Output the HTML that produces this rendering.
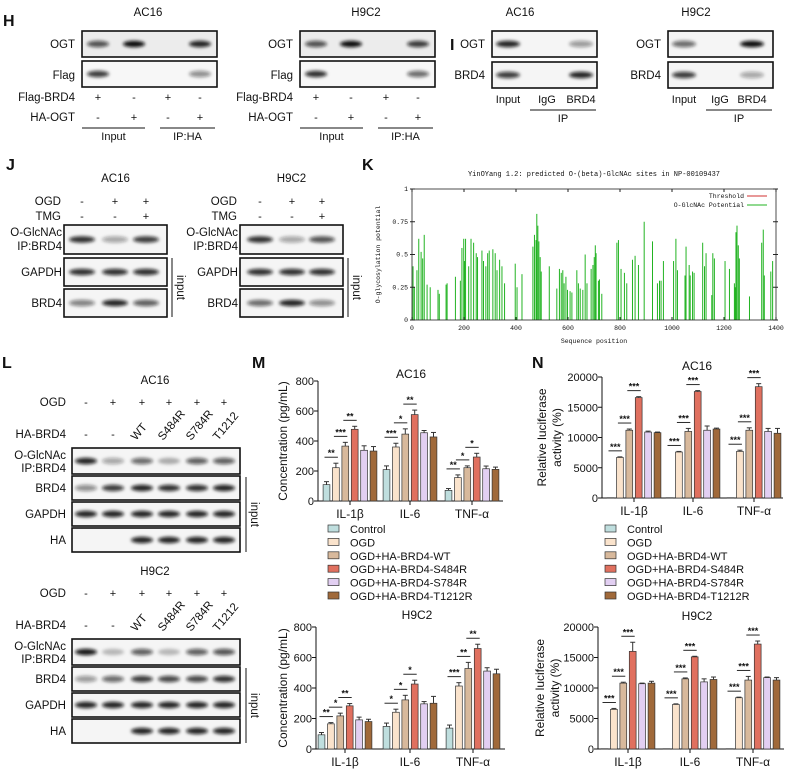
<!DOCTYPE html>
<html><head><meta charset="utf-8"><style>
html,body{margin:0;padding:0;background:#fff}
svg{display:block;font-family:"Liberation Sans",Arial,sans-serif}
</style></head><body>
<svg id="fig" width="799" height="778" viewBox="0 0 799 778" xmlns="http://www.w3.org/2000/svg">
<defs><filter id="blur" x="-50%" y="-100%" width="200%" height="300%"><feGaussianBlur stdDeviation="1.6"/></filter></defs>
<g id="root"></g>
</svg>
<script>
// ===== Chart data =====
const groups = ["IL-1β","IL-6","TNF-α"];
const seriesNames = ["Control","OGD","OGD+HA-BRD4-WT","OGD+HA-BRD4-S484R","OGD+HA-BRD4-S784R","OGD+HA-BRD4-T1212R"];
const mAC16 = [[109,222,366,478,338,333],[209,360,446,576,455,427],[71,156,222,293,215,211]];
const mAC16err = [[20,30,25,20,30,30],[25,25,35,30,15,30],[12,18,12,25,18,15]];
const mH9C2 = [[93,165,217,283,191,180],[148,241,322,426,296,300],[137,413,528,659,511,493]];
const mH9C2err = [[15,8,18,15,18,15],[22,20,30,25,15,45],[20,22,40,28,22,30]];
const mTicks = [0,200,400,600,800];
const nAC16 = [[50,6700,11200,16600,10900,10800],[50,7600,11000,17600,11200,11400],[50,7700,11200,18400,11000,10700]];
const nAC16err = [[0,100,200,150,150,100],[0,100,500,150,700,150],[0,200,400,500,500,800]];
const nH9C2 = [[50,6500,10800,16000,10700,10800],[50,7300,11500,15100,11000,11400],[50,8400,11300,17200,11700,11300]];
const nH9C2err = [[0,150,150,1500,100,300],[0,100,150,100,500,400],[0,100,600,500,100,400]];
const nTicks = [0,5000,10000,15000,20000];
const sigMAC16 = [["**","***","**"],["***","*","**"],["**","*","*"]];
const sigMH9C2 = [["**","*","**"],["*","*","*"],["***","**","**"]];
const sigN = [["***","***","***"],["***","***","***"],["***","***","***"]];
// K chart data
const kPos = [4,9,19,26,35,41,47,58,70,100,105,131,135,167,186,192,199,202,206,218,227,237,247,252,269,275,284,291,297,311,320,327,337,346,356,397,404,423,465,471,477,480,484,488,493,497,528,557,567,574,580,585,592,598,608,615,634,640,647,657,666,673,689,696,701,705,708,717,721,730,788,794,804,817,826,848,858,871,893,925,944,952,958,967,1006,1015,1021,1050,1054,1066,1070,1079,1085,1118,1125,1131,1153,1157,1163,1204,1221,1240,1243,1246,1250,1255,1259,1298,1345,1351,1355,1380,1387];
const kVal = [.41,.25,.38,.62,.52,.47,.65,.27,.25,.23,.2,.27,.28,.33,.3,.55,.62,.45,.62,.41,.62,.59,.51,.48,.53,.45,.41,.51,.53,.54,.51,.38,.46,.41,.28,.43,.25,.35,.56,.65,.61,.81,.72,.6,.48,.37,.41,.24,.39,.36,.38,.28,.33,.23,.22,.21,.38,.28,.24,.23,.5,.28,.39,.42,.48,.57,.51,.3,.31,.2,.59,.61,.39,.36,.28,.46,.49,.42,.75,.6,.28,.3,.3,.45,.45,.62,.38,.34,.56,.42,.34,.37,.36,.59,.41,.51,.19,.51,.47,.45,.39,.28,.25,.67,.72,.57,.47,.18,.59,.69,.34,.37,.45];
const kXTicks = [0,200,400,600,800,1000,1200,1400];
const kYTicks = [0,0.25,0.5,0.75,1];

const colors = ["#bfdede","#fae3cc","#d8b99c","#e0705f","#e2cff2","#a0693a"];
const NS="http://www.w3.org/2000/svg";
const root=document.getElementById('root');
function el(tag,attrs,parent,text){const e=document.createElementNS(NS,tag);for(const k in attrs)e.setAttribute(k,attrs[k]);if(text!==undefined)e.textContent=text;(parent||root).appendChild(e);return e;}
function txt(x,y,s,size,anchor,parent,extra){return el('text',Object.assign({x:x,y:y,'font-size':size||11,'text-anchor':anchor||'middle',fill:'#111'},extra||{}),parent,s);}

// Panel letters
[["H",3,26],["I",450,50],["J",6,170],["K",362,170],["L",2,368],["M",252,368],["N",532,368]].forEach(p=>{
  const t=txt(p[1],p[2],p[0],16,'start',root,{'font-weight':'bold'});
  
  
});

function blot(name,x,y,w,h,lanes,ints,bw,bg){
  const g=el('g',{});
  
  
  el('rect',{x:x,y:y,width:w,height:h,fill:bg||'#f3f3f3',stroke:'#111','stroke-width':1.6},g);
  lanes.forEach((lx,i)=>{ if(ints[i]>0){
    const b=el('ellipse',{cx:lx,cy:y+h/2,rx:bw/2,ry:3.2,fill:'#111','fill-opacity':ints[i],filter:'url(#blur)'},g);
    
    
  }});
  return g;
}
function rowSigns(label,lx,y,lanes,signs){
  txt(lx,y,label,11.5,'end');
  lanes.forEach((x,i)=>txt(x,y,signs[i],11,'middle'));
}
function underline(x1,x2,y,label){
  el('line',{x1:x1,x2:x2,y1:y,y2:y,stroke:'#111','stroke-width':1});
  txt((x1+x2)/2,y+12,label,11,'middle');
}
function inputBracket(x,y1,y2){
  el('line',{x1:x,x2:x,y1:y1,y2:y2,stroke:'#111','stroke-width':1});
  const t=txt(0,0,'input',11.5,'middle',root,{transform:`translate(${x+5},${(y1+y2)/2}) rotate(90)`});
  
  
}

// ---- Panel H ----
function panelH(x0,title,lanes,ogt,flag){
  txt(x0+66,16,title,11.5);
  txt(x0-7,48,'OGT',11.5,'end');txt(x0-7,79,'Flag',11.5,'end');
  blot('h-ogt-blot-'+title.toLowerCase(),x0,31,135,26,lanes,ogt,22,'#ececec');
  blot('h-flag-blot-'+title.toLowerCase(),x0,61,135,26,lanes,flag,22,'#f7f7f7');
  rowSigns('Flag-BRD4',x0-7,101,lanes,['+','-','+','-']);
  rowSigns('HA-OGT',x0-7,121,lanes,['-','+','-','+']);
  underline(x0,x0+63,128,'Input');underline(x0+78,x0+133,128,'IP:HA');
}
panelH(82,'AC16',[98,134,168,200],[.7,1,0,.9],[.8,0,0,.45]);
panelH(300,'H9C2',[316,351,386,418],[.7,1,0,.8],[.85,0,0,.6]);

// ---- Panel I ----
function panelI(x0,title,lanes,ogt,brd){
  txt(x0+28,16,title,11.5);
  txt(x0-7,48,'OGT',11.5,'end');txt(x0-7,79,'BRD4',11.5,'end');
  blot('i-ogt-blot-'+title.toLowerCase(),x0,31,105,26,lanes,ogt,24,'#f5f5f5');
  blot('i-brd4-blot-'+title.toLowerCase(),x0,62,105,26,lanes,brd,24,'#f5f5f5');
  txt(lanes[0],103,'Input',11);txt(lanes[1],103,'IgG',11);txt(lanes[2],103,'BRD4',11);
  underline(x0+38,x0+104,110,'IP');
}
panelI(492,'AC16',[508,547,581],[.9,0,.4],[.8,0,.9]);
panelI(668,'H9C2',[684,720,752],[.6,0,1],[.8,0,.35]);

// ---- Panel J ----
function panelJ(x0,w,title,lanes,og,gap,brd){
  txt(x0+w/2,182,title,11.5);
  rowSigns('OGD',x0-3,205,lanes,['-','+','+']);
  rowSigns('TMG',x0-3,220,lanes,['-','-','+']);
  txt(x0-2,236,'O-GlcNAc',11.5,'end');txt(x0-2,250,'IP:BRD4',11.5,'end');
  txt(x0-2,276,'GAPDH',11.5,'end');txt(x0-2,307,'BRD4',11.5,'end');
  blot('j-oglcnac-blot-'+title.toLowerCase(),x0,225,w,29,lanes,og,26,'#f5f5f5');
  blot('j-gapdh-blot-'+title.toLowerCase(),x0,258,w,28,lanes,gap,26,'#f5f5f5');
  blot('j-brd4-blot-'+title.toLowerCase(),x0,289,w,28,lanes,brd,26,'#f5f5f5');
  inputBracket(x0+w+5,258,317);
}
panelJ(64,103,'AC16',[82,115,146],[.85,.35,.8],[.85,.85,.85],[.5,.9,.65]);
panelJ(240,103,'H9C2',[260,292,322],[.85,.35,.7],[.85,.85,.85],[.6,.9,.45]);

// ---- Panel K ----
(function(){
  const g=el('g',{});
  
  
  const L=412,R=776,T=189,B=320;
  const xs=v=>L+(v/1400)*(R-L), ys=v=>B-v*(B-T);
  const mono={'font-family':'Liberation Mono, monospace'};
  txt((L+R)/2,176,'YinOYang 1.2: predicted O-(beta)-GlcNAc sites in NP-00109437',7,'middle',g,mono);
  kPos.forEach((p,i)=>{
    const l=el('line',{x1:xs(p),x2:xs(p),y1:B,y2:ys(kVal[i]),stroke:'#22b322','stroke-width':1},g);
    
    
  });
  el('rect',{x:L,y:T,width:R-L,height:B-T,fill:'none',stroke:'#222','stroke-width':0.8},g);
  kXTicks.forEach(v=>{el('line',{x1:xs(v),x2:xs(v),y1:B,y2:B-3,stroke:'#222'},g);el('line',{x1:xs(v),x2:xs(v),y1:T,y2:T+3,stroke:'#222'},g);txt(xs(v),330,String(v),6.5,'middle',g,mono);});
  kYTicks.forEach(v=>{el('line',{x1:L-2,x2:L+3,y1:ys(v),y2:ys(v),stroke:'#222'},g);el('line',{x1:R-3,x2:R+2,y1:ys(v),y2:ys(v),stroke:'#222'},g);txt(L-4,ys(v)+2,String(v),6.5,'end',g,mono);});
  txt((L+R)/2,343,'Sequence position',6.5,'middle',g,mono);
  txt(0,0,'O-glycosylation potential',6.5,'middle',g,Object.assign({transform:`translate(380,${(T+B)/2}) rotate(-90)`},mono));
  txt(744,198,'Threshold',6.5,'end',g,mono);
  el('line',{x1:747,x2:767,y1:196,y2:196,stroke:'#d03030'},g);
  txt(744,207,'O-GlcNAc Potential',6.5,'end',g,mono);
  el('line',{x1:747,x2:767,y1:205,y2:205,stroke:'#22b322'},g);
})();

// ---- Panel L ----
const lLanes=[86,113,142,169,197,224];
function panelL(y0,title,og,brd,gap,ha){
  txt(155,y0,title,11.5);
  rowSigns('OGD',66,y0+22,lLanes,['-','+','+','+','+','+']);
  txt(66,y0+54,'HA-BRD4',11.5,'end');
  lLanes.slice(0,2).forEach(x=>txt(x,y0+54,'-',11));
  ['WT','S484R','S784R','T1212'].forEach((s,i)=>txt(0,0,s,11.5,'start',root,{transform:`translate(${lLanes[i+2]-6},${y0+57}) rotate(-50)`}));
  const oy=y0+64;
  txt(66,oy+11,'O-GlcNAc',11.5,'end');txt(66,oy+24,'IP:BRD4',11.5,'end');
  blot('l-oglcnac-blot-'+title.toLowerCase(),72,oy,168,26,lLanes,og,22,'#f5f5f5');
  txt(66,oy+44,'BRD4',11.5,'end');blot('l-brd4-blot-'+title.toLowerCase(),72,oy+28,168,24,lLanes,brd,22,'#f5f5f5');
  txt(66,oy+70,'GAPDH',11.5,'end');blot('l-gapdh-blot-'+title.toLowerCase(),72,oy+54,168,24,lLanes,gap,22,'#f5f5f5');
  txt(66,oy+96,'HA',11.5,'end');blot('l-ha-blot-'+title.toLowerCase(),72,oy+80,168,24,lLanes,ha,22,'#f5f5f5');
  inputBracket(246,oy+29,oy+104);
}
panelL(384,'AC16',[.9,.35,.6,.3,.65,.65],[.45,.8,.9,.85,.85,.9],[.9,.9,.9,.9,.9,.9],[0,0,.9,.9,.9,.9]);
panelL(575,'H9C2',[.95,.25,.65,.25,.65,.7],[.4,.6,.8,.75,.75,.85],[.9,.9,.9,.9,.9,.9],[0,0,.9,.9,.9,.9]);

// ---- Bar charts ----
function barChart(o){
  const g=el('g',{});
  
  
  const ys=v=>o.base-(v/o.max)*(o.base-o.top);
  txt(o.titleX,o.titleY,o.title,12,'middle',g);
  el('line',{x1:o.axisX,x2:o.axisX,y1:o.top,y2:o.base,stroke:'#111','stroke-width':1},g);
  el('line',{x1:o.axisX,x2:o.right,y1:o.base,y2:o.base,stroke:'#111','stroke-width':1},g);
  o.ticks.forEach(v=>{el('line',{x1:o.axisX-4,x2:o.axisX,y1:ys(v),y2:ys(v),stroke:'#111'},g);txt(o.axisX-4,ys(v)+4,String(v),11,'end',g);});
  o.centers.forEach((c,gi)=>{
    el('line',{x1:c,x2:c,y1:o.base,y2:o.base+4,stroke:'#111'},g);
    txt(c,o.base+17,groups[gi],12,'middle',g);
    const xs=[];
    o.data[gi].forEach((v,si)=>{
      const x=c+(si-2.5)*9.4; xs.push(x);
      const y=ys(v);
      const r=el('rect',{x:x-3.4,y:y,width:6.8,height:o.base-y,fill:colors[si],stroke:'#333','stroke-width':0.7},g);
      
      
      const e=ys(v+o.err[gi][si]);
      if(o.err[gi][si]>0){el('line',{x1:x,x2:x,y1:y,y2:e,stroke:'#333','stroke-width':1},g);el('line',{x1:x-2.5,x2:x+2.5,y1:e,y2:e,stroke:'#333','stroke-width':1},g);}
    });
    for(let k=0;k<3;k++){
      const top=ys(o.data[gi][k+1]+o.err[gi][k+1])-6;
      el('line',{x1:xs[k]-2,x2:xs[k+1]+2,y1:top,y2:top,stroke:'#111','stroke-width':0.9},g);
      txt((xs[k]+xs[k+1])/2,top-1,o.sig[gi][k],9,'middle',g,{'font-weight':'bold'});
    }
  });
  o.ylabel.forEach((s,i)=>txt(0,0,s,12,'middle',g,{transform:`translate(${o.ylx+i*15},${(o.top+o.base)/2}) rotate(-90)`}));
}
function legend(x,y){
  const g=el('g',{});
  
  
  seriesNames.forEach((s,i)=>{
    const it=el('g',{},g);
    
    
    el('rect',{x:x,y:y+i*13.4-8,width:11,height:7,fill:colors[i],stroke:'#333','stroke-width':0.7},it);
    txt(x+22,y+i*13.4,s,11,'start',it);
  });
}
barChart({name:'m-ac16-chart',title:'AC16',titleX:411,titleY:378,axisX:318,right:503,top:381,base:501,max:800,ticks:mTicks,centers:[350,410,472],data:mAC16,err:mAC16err,sig:sigMAC16,ylabel:['Concentration (pg/mL)'],ylx:287});
legend(328,533);
barChart({name:'m-h9c2-chart',title:'H9C2',titleX:417,titleY:619,axisX:316,right:505,top:627,base:749,max:800,ticks:mTicks,centers:[345,410,473],data:mH9C2,err:mH9C2err,sig:sigMH9C2,ylabel:['Concentration (pg/mL)'],ylx:287});
barChart({name:'n-ac16-chart',title:'AC16',titleX:697,titleY:370,axisX:602,right:783,top:377,base:498,max:20000,ticks:nTicks,centers:[634,693,754],data:nAC16,err:nAC16err,sig:sigN,ylabel:['Relative luciferase','activity (%)'],ylx:546});
legend(605,533);
barChart({name:'n-h9c2-chart',title:'H9C2',titleX:697,titleY:620,axisX:598,right:784,top:627,base:749,max:20000,ticks:nTicks,centers:[628,690,753],data:nH9C2,err:nH9C2err,sig:sigN,ylabel:['Relative luciferase','activity (%)'],ylx:544});
</script>
</body></html>
